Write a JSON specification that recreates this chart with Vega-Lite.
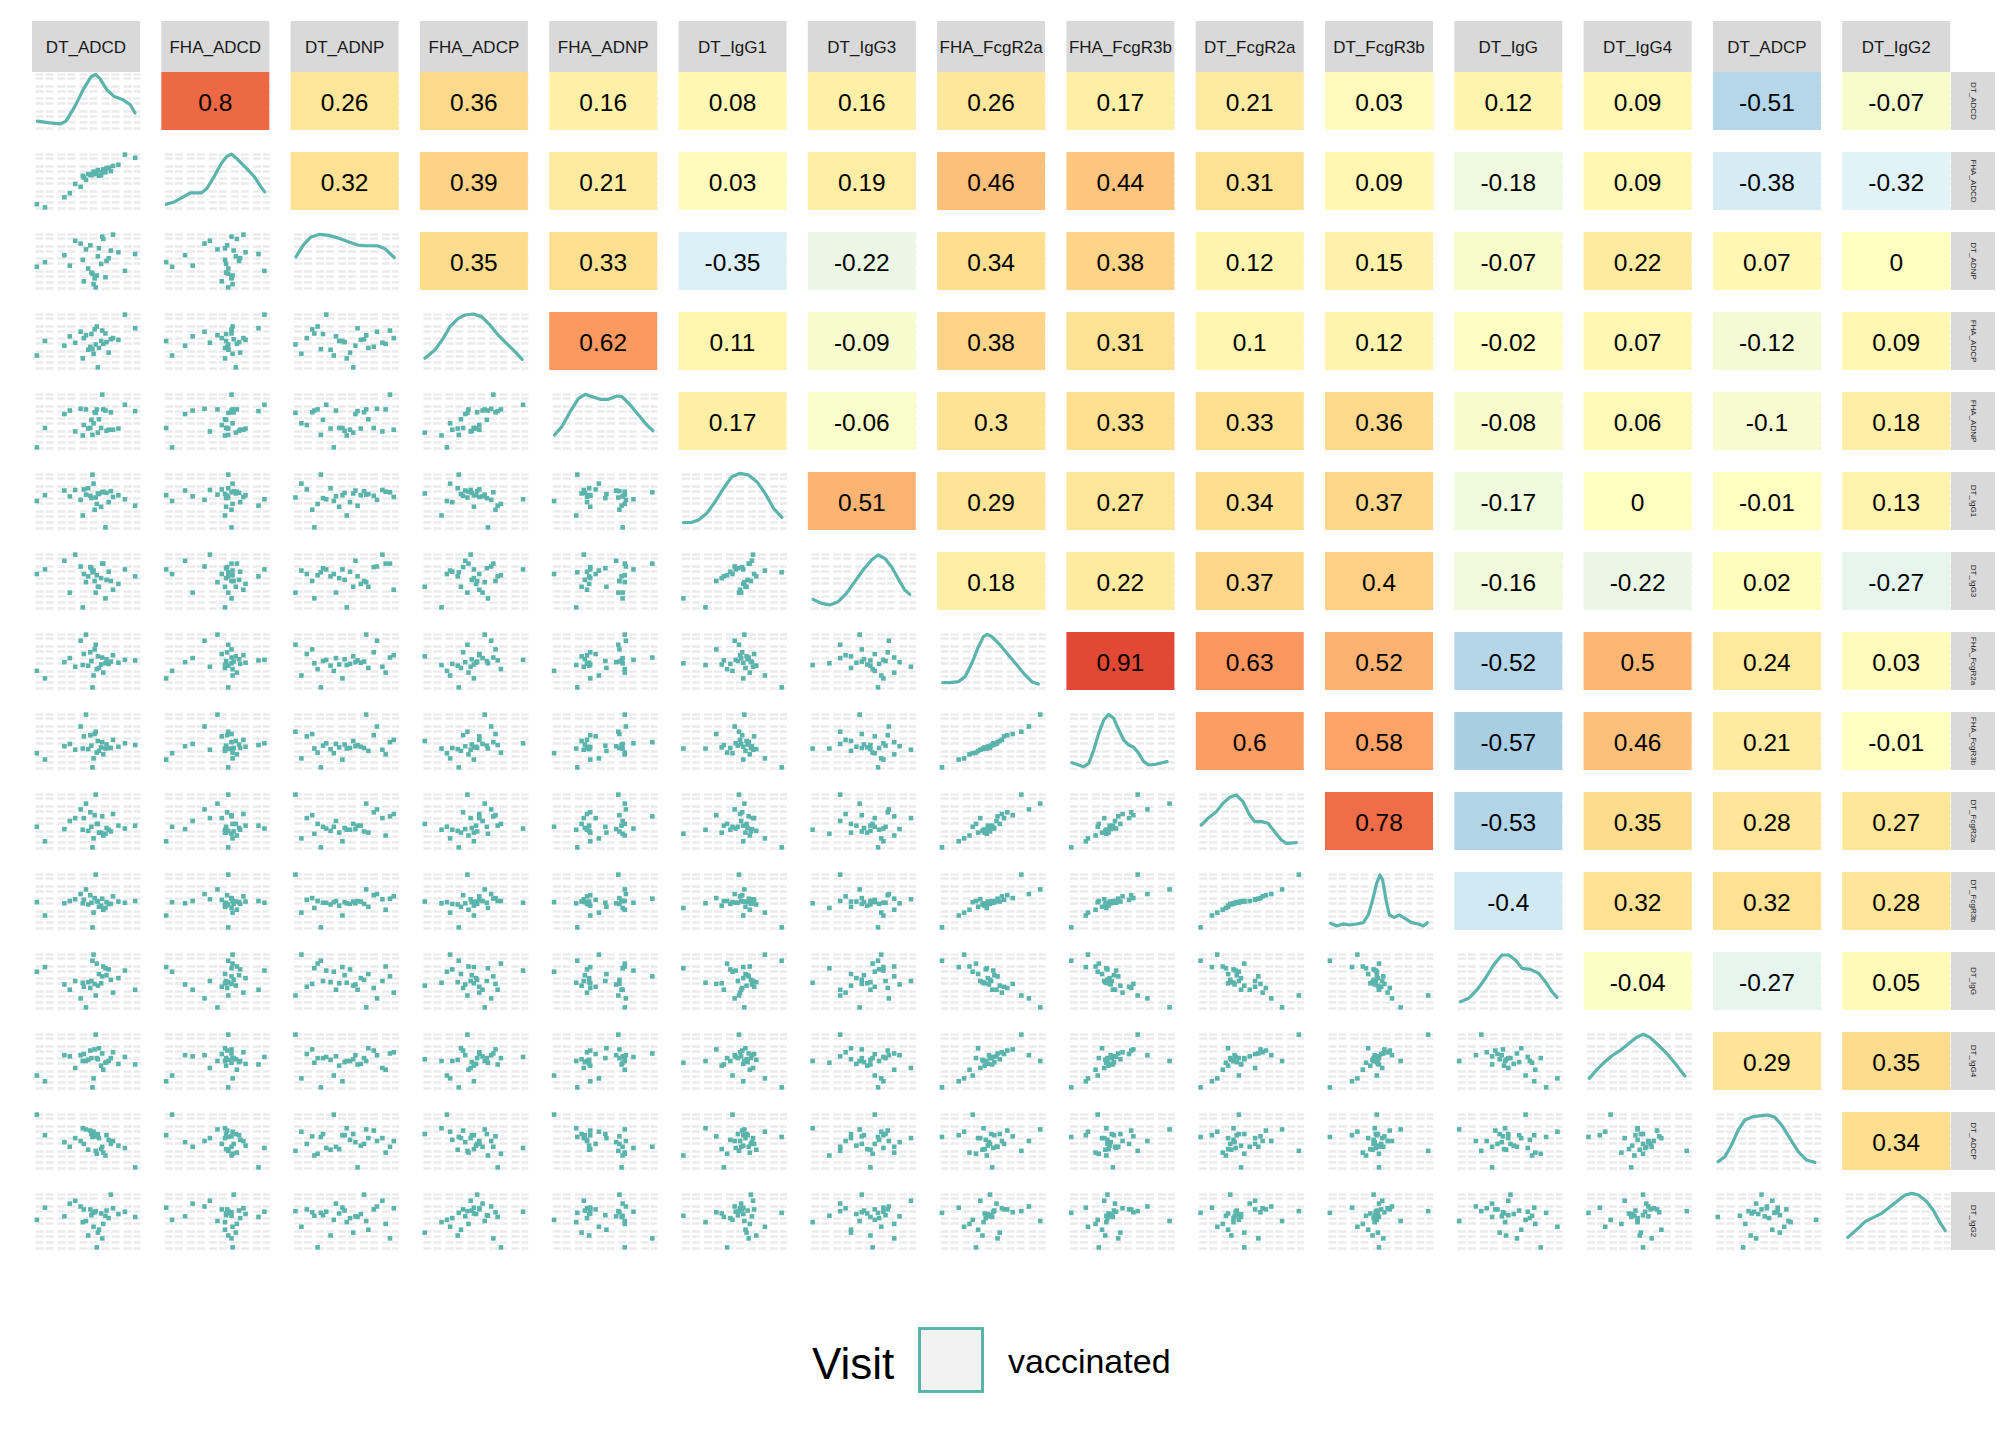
{
  "$schema": "https://vega.github.io/schema/vega-lite/v6.json",
  "background": "white",
  "padding": {"left": 32, "top": 21, "right": 0, "bottom": 0},
  "config": {"view": {"stroke": null}, "font": "Liberation Sans"},
  "spacing": 0,
  "vconcat": [
    {
      "data": {"values": [
        {"c": "DT_ADCD"}, {"c": "FHA_ADCD"}, {"c": "DT_ADNP"}, {"c": "FHA_ADCP"}, {"c": "FHA_ADNP"},
        {"c": "DT_IgG1"}, {"c": "DT_IgG3"}, {"c": "FHA_FcgR2a"}, {"c": "FHA_FcgR3b"}, {"c": "DT_FcgR2a"},
        {"c": "DT_FcgR3b"}, {"c": "DT_IgG"}, {"c": "DT_IgG4"}, {"c": "DT_ADCP"}, {"c": "DT_IgG2"}
      ]},
      "facet": {"column": {"field": "c", "sort": ["DT_ADCD","FHA_ADCD","DT_ADNP","FHA_ADCP","FHA_ADNP","DT_IgG1","DT_IgG3","FHA_FcgR2a","FHA_FcgR3b","DT_FcgR2a","DT_FcgR3b","DT_IgG","DT_IgG4","DT_ADCP","DT_IgG2"], "header": {"title": null, "labels": false}}},
      "spacing": 21.3,
      "spec": {
        "width": 108,
        "height": 51,
        "layer": [
          {"mark": {"type": "rect", "color": "#D9D9D9"}, "encoding": {}},
          {"mark": {"type": "text", "fontSize": 17, "font": "Liberation Sans", "color": "#1A1A1A", "dy": 1}, "encoding": {"text": {"field": "c"}}}
        ]
      }
    },
    {
      "spacing": 0,
      "hconcat": [
        {
          "data": {"values": [
            {"k":"o","DT_ADCD":0.55,"FHA_ADCD":0.60,"DT_ADNP":0.30,"FHA_ADCP":0.62,"FHA_ADNP":0.52,"DT_IgG1":0.55,"DT_IgG3":0.72,"FHA_FcgR2a":0.50,"FHA_FcgR3b":0.42,"DT_FcgR2a":0.40,"DT_FcgR3b":0.47,"DT_IgG":0.50,"DT_IgG4":0.55,"DT_ADCP":0.62,"DT_IgG2":0.60},
            {"k":"o","DT_ADCD":0.62,"FHA_ADCD":0.59,"DT_ADNP":0.72,"FHA_ADCP":0.38,"FHA_ADNP":0.53,"DT_IgG1":0.62,"DT_IgG3":0.40,"FHA_FcgR2a":0.38,"FHA_FcgR3b":0.33,"DT_FcgR2a":0.30,"DT_FcgR3b":0.40,"DT_IgG":0.62,"DT_IgG4":0.72,"DT_ADCP":0.55,"DT_IgG2":0.35},
            {"k":"o","DT_ADCD":0.48,"FHA_ADCD":0.56,"DT_ADNP":0.15,"FHA_ADCP":0.55,"FHA_ADNP":0.43,"DT_IgG1":0.70,"DT_IgG3":0.62,"FHA_FcgR2a":0.62,"FHA_FcgR3b":0.58,"DT_FcgR2a":0.55,"DT_FcgR3b":0.52,"DT_IgG":0.40,"DT_IgG4":0.62,"DT_ADCP":0.45,"DT_IgG2":0.70},
            {"k":"o","DT_ADCD":0.71,"FHA_ADCD":0.73,"DT_ADNP":0.55,"FHA_ADCP":0.30,"FHA_ADNP":0.35,"DT_IgG1":0.48,"DT_IgG3":0.66,"FHA_FcgR2a":0.45,"FHA_FcgR3b":0.38,"DT_FcgR2a":0.35,"DT_FcgR3b":0.45,"DT_IgG":0.70,"DT_IgG4":0.50,"DT_ADCP":0.52,"DT_IgG2":0.55},
            {"k":"o","DT_ADCD":0.35,"FHA_ADCD":0.29,"DT_ADNP":0.42,"FHA_ADCP":0.58,"FHA_ADNP":0.68,"DT_IgG1":0.58,"DT_IgG3":0.30,"FHA_FcgR2a":0.55,"FHA_FcgR3b":0.45,"DT_FcgR2a":0.50,"DT_FcgR3b":0.50,"DT_IgG":0.35,"DT_IgG4":0.58,"DT_ADCP":0.40,"DT_IgG2":0.80},
            {"k":"o","DT_ADCD":0.66,"FHA_ADCD":0.70,"DT_ADNP":0.88,"FHA_ADCP":0.45,"FHA_ADNP":0.70,"DT_IgG1":0.66,"DT_IgG3":0.80,"FHA_FcgR2a":0.30,"FHA_FcgR3b":0.27,"DT_FcgR2a":0.25,"DT_FcgR3b":0.35,"DT_IgG":0.75,"DT_IgG4":0.35,"DT_ADCP":0.30,"DT_IgG2":0.45},
            {"k":"o","DT_ADCD":0.58,"FHA_ADCD":0.65,"DT_ADNP":0.20,"FHA_ADCP":0.70,"FHA_ADNP":0.65,"DT_IgG1":0.35,"DT_IgG3":0.50,"FHA_FcgR2a":0.70,"FHA_FcgR3b":0.62,"DT_FcgR2a":0.60,"DT_FcgR3b":0.55,"DT_IgG":0.45,"DT_IgG4":0.70,"DT_ADCP":0.58,"DT_IgG2":0.65},
            {"k":"o","DT_ADCD":0.80,"FHA_ADCD":0.78,"DT_ADNP":0.65,"FHA_ADCP":0.52,"FHA_ADNP":0.37,"DT_IgG1":0.60,"DT_IgG3":0.45,"FHA_FcgR2a":0.47,"FHA_FcgR3b":0.40,"DT_FcgR2a":0.42,"DT_FcgR3b":0.49,"DT_IgG":0.55,"DT_IgG4":0.45,"DT_ADCP":0.42,"DT_IgG2":0.62},
            {"k":"o","DT_ADCD":0.52,"FHA_ADCD":0.62,"DT_ADNP":0.37,"FHA_ADCP":0.35,"FHA_ADNP":0.37,"DT_IgG1":0.72,"DT_IgG3":0.58,"FHA_FcgR2a":0.42,"FHA_FcgR3b":0.36,"DT_FcgR2a":0.33,"DT_FcgR3b":0.44,"DT_IgG":0.48,"DT_IgG4":0.52,"DT_ADCP":0.35,"DT_IgG2":0.25},
            {"k":"o","DT_ADCD":0.45,"FHA_ADCD":0.40,"DT_ADNP":0.80,"FHA_ADCP":0.66,"FHA_ADNP":0.71,"DT_IgG1":0.52,"DT_IgG3":0.75,"FHA_FcgR2a":0.85,"FHA_FcgR3b":0.75,"DT_FcgR2a":0.70,"DT_FcgR3b":0.62,"DT_IgG":0.20,"DT_IgG4":0.60,"DT_ADCP":0.50,"DT_IgG2":0.75},
            {"k":"o","DT_ADCD":0.69,"FHA_ADCD":0.72,"DT_ADNP":0.50,"FHA_ADCP":0.48,"FHA_ADNP":0.33,"DT_IgG1":0.64,"DT_IgG3":0.52,"FHA_FcgR2a":0.53,"FHA_FcgR3b":0.44,"DT_FcgR2a":0.38,"DT_FcgR3b":0.48,"DT_IgG":0.60,"DT_IgG4":0.48,"DT_ADCP":0.60,"DT_IgG2":0.68},
            {"k":"o","DT_ADCD":0.60,"FHA_ADCD":0.66,"DT_ADNP":0.25,"FHA_ADCP":0.75,"FHA_ADNP":0.70,"DT_IgG1":0.45,"DT_IgG3":0.60,"FHA_FcgR2a":0.36,"FHA_FcgR3b":0.30,"DT_FcgR2a":0.45,"DT_FcgR3b":0.50,"DT_IgG":0.80,"DT_IgG4":0.55,"DT_ADCP":0.28,"DT_IgG2":0.045},
            {"k":"o","DT_ADCD":0.30,"FHA_ADCD":0.22,"DT_ADNP":0.60,"FHA_ADCP":0.42,"FHA_ADNP":0.62,"DT_IgG1":0.68,"DT_IgG3":0.85,"FHA_FcgR2a":0.48,"FHA_FcgR3b":0.41,"DT_FcgR2a":0.36,"DT_FcgR3b":0.46,"DT_IgG":0.44,"DT_IgG4":0.60,"DT_ADCP":0.48,"DT_IgG2":0.58},
            {"k":"o","DT_ADCD":0.75,"FHA_ADCD":0.76,"DT_ADNP":0.955,"FHA_ADCP":0.55,"FHA_ADNP":0.35,"DT_IgG1":0.57,"DT_IgG3":0.35,"FHA_FcgR2a":0.60,"FHA_FcgR3b":0.52,"DT_FcgR2a":0.62,"DT_FcgR3b":0.58,"DT_IgG":0.30,"DT_IgG4":0.65,"DT_ADCP":0.50,"DT_IgG2":0.72},
            {"k":"o","DT_ADCD":0.57,"FHA_ADCD":0.66,"DT_ADNP":0.10,"FHA_ADCP":0.28,"FHA_ADNP":0.46,"DT_IgG1":0.80,"DT_IgG3":0.68,"FHA_FcgR2a":0.25,"FHA_FcgR3b":0.20,"DT_FcgR2a":0.20,"DT_FcgR3b":0.30,"DT_IgG":0.955,"DT_IgG4":0.20,"DT_ADCP":0.66,"DT_IgG2":0.40},
            {"k":"o","DT_ADCD":0.64,"FHA_ADCD":0.60,"DT_ADNP":0.45,"FHA_ADCP":0.50,"FHA_ADNP":0.38,"DT_IgG1":0.40,"DT_IgG3":0.55,"FHA_FcgR2a":0.44,"FHA_FcgR3b":0.39,"DT_FcgR2a":0.30,"DT_FcgR3b":0.42,"DT_IgG":0.46,"DT_IgG4":0.42,"DT_ADCP":0.36,"DT_IgG2":0.63},
            {"k":"o","DT_ADCD":0.50,"FHA_ADCD":0.52,"DT_ADNP":0.70,"FHA_ADCP":0.60,"FHA_ADNP":0.70,"DT_IgG1":0.61,"DT_IgG3":0.48,"FHA_FcgR2a":0.955,"FHA_FcgR3b":0.955,"DT_FcgR2a":0.80,"DT_FcgR3b":0.70,"DT_IgG":0.045,"DT_IgG4":0.50,"DT_ADCP":0.70,"DT_IgG2":0.50},
            {"k":"o","DT_ADCD":0.86,"FHA_ADCD":0.955,"DT_ADNP":0.33,"FHA_ADCP":0.955,"FHA_ADNP":0.78,"DT_IgG1":0.53,"DT_IgG3":0.70,"FHA_FcgR2a":0.52,"FHA_FcgR3b":0.46,"DT_FcgR2a":0.37,"DT_FcgR3b":0.47,"DT_IgG":0.68,"DT_IgG4":0.57,"DT_ADCP":0.38,"DT_IgG2":0.66},
            {"k":"o","DT_ADCD":0.40,"FHA_ADCD":0.45,"DT_ADNP":0.85,"FHA_ADCP":0.47,"FHA_ADNP":0.32,"DT_IgG1":0.69,"DT_IgG3":0.955,"FHA_FcgR2a":0.40,"FHA_FcgR3b":0.35,"DT_FcgR2a":0.55,"DT_FcgR3b":0.53,"DT_IgG":0.50,"DT_IgG4":0.38,"DT_ADCP":0.55,"DT_IgG2":0.85},
            {"k":"o","DT_ADCD":0.61,"FHA_ADCD":0.69,"DT_ADNP":0.58,"FHA_ADCP":0.045,"FHA_ADNP":0.30,"DT_IgG1":0.63,"DT_IgG3":0.40,"FHA_FcgR2a":0.58,"FHA_FcgR3b":0.50,"DT_FcgR2a":0.45,"DT_FcgR3b":0.49,"DT_IgG":0.42,"DT_IgG4":0.53,"DT_ADCP":0.62,"DT_IgG2":0.30},
            {"k":"o","DT_ADCD":0.68,"FHA_ADCD":0.65,"DT_ADNP":0.22,"FHA_ADCP":0.63,"FHA_ADNP":0.68,"DT_IgG1":0.045,"DT_IgG3":0.20,"FHA_FcgR2a":0.46,"FHA_FcgR3b":0.37,"DT_FcgR2a":0.28,"DT_FcgR3b":0.38,"DT_IgG":0.72,"DT_IgG4":0.47,"DT_ADCP":0.25,"DT_IgG2":0.59},
            {"k":"o","DT_ADCD":0.54,"FHA_ADCD":0.61,"DT_ADNP":0.77,"FHA_ADCP":0.40,"FHA_ADNP":0.38,"DT_IgG1":0.59,"DT_IgG3":0.74,"FHA_FcgR2a":0.65,"FHA_FcgR3b":0.60,"DT_FcgR2a":0.65,"DT_FcgR3b":0.60,"DT_IgG":0.38,"DT_IgG4":0.68,"DT_ADCP":0.68,"DT_IgG2":0.70},
            {"k":"o","DT_ADCD":0.045,"FHA_ADCD":0.10,"DT_ADNP":0.40,"FHA_ADCP":0.25,"FHA_ADNP":0.045,"DT_IgG1":0.50,"DT_IgG3":0.62,"FHA_FcgR2a":0.33,"FHA_FcgR3b":0.29,"DT_FcgR2a":0.40,"DT_FcgR3b":0.48,"DT_IgG":0.66,"DT_IgG4":0.25,"DT_ADCP":0.955,"DT_IgG2":0.52},
            {"k":"o","DT_ADCD":0.73,"FHA_ADCD":0.67,"DT_ADNP":0.68,"FHA_ADCP":0.53,"FHA_ADNP":0.65,"DT_IgG1":0.67,"DT_IgG3":0.50,"FHA_FcgR2a":0.49,"FHA_FcgR3b":0.38,"DT_FcgR2a":0.32,"DT_FcgR3b":0.45,"DT_IgG":0.52,"DT_IgG4":0.55,"DT_ADCP":0.45,"DT_IgG2":0.955},
            {"k":"o","DT_ADCD":0.59,"FHA_ADCD":0.62,"DT_ADNP":0.045,"FHA_ADCP":0.44,"FHA_ADNP":0.64,"DT_IgG1":0.56,"DT_IgG3":0.30,"FHA_FcgR2a":0.78,"FHA_FcgR3b":0.66,"DT_FcgR2a":0.955,"DT_FcgR3b":0.955,"DT_IgG":0.25,"DT_IgG4":0.955,"DT_ADCP":0.33,"DT_IgG2":0.67},
            {"k":"o","DT_ADCD":0.47,"FHA_ADCD":0.59,"DT_ADNP":0.52,"FHA_ADCP":0.20,"FHA_ADNP":0.25,"DT_IgG1":0.25,"DT_IgG3":0.045,"FHA_FcgR2a":0.43,"FHA_FcgR3b":0.37,"DT_FcgR2a":0.35,"DT_FcgR3b":0.46,"DT_IgG":0.47,"DT_IgG4":0.50,"DT_ADCP":0.72,"DT_IgG2":0.48},
            {"k":"o","DT_ADCD":0.65,"FHA_ADCD":0.65,"DT_ADNP":0.92,"FHA_ADCP":0.68,"FHA_ADNP":0.955,"DT_IgG1":0.65,"DT_IgG3":0.80,"FHA_FcgR2a":0.56,"FHA_FcgR3b":0.48,"DT_FcgR2a":0.58,"DT_FcgR3b":0.54,"DT_IgG":0.58,"DT_IgG4":0.63,"DT_ADCP":0.40,"DT_IgG2":0.20},
            {"k":"o","DT_ADCD":0.56,"FHA_ADCD":0.62,"DT_ADNP":0.28,"FHA_ADCP":0.36,"FHA_ADNP":0.26,"DT_IgG1":0.955,"DT_IgG3":0.65,"FHA_FcgR2a":0.045,"FHA_FcgR3b":0.045,"DT_FcgR2a":0.045,"DT_FcgR3b":0.045,"DT_IgG":0.85,"DT_IgG4":0.045,"DT_ADCP":0.57,"DT_IgG2":0.64},
            {"k":"o","DT_ADCD":0.955,"FHA_ADCD":0.90,"DT_ADNP":0.62,"FHA_ADCP":0.72,"FHA_ADNP":0.67,"DT_IgG1":0.42,"DT_IgG3":0.58,"FHA_FcgR2a":0.51,"FHA_FcgR3b":0.43,"DT_FcgR2a":0.42,"DT_FcgR3b":0.50,"DT_IgG":0.35,"DT_IgG4":0.44,"DT_ADCP":0.045,"DT_IgG2":0.57},
            {"k":"o","DT_ADCD":0.12,"FHA_ADCD":0.045,"DT_ADNP":0.48,"FHA_ADCP":0.50,"FHA_ADNP":0.38,"DT_IgG1":0.60,"DT_IgG3":0.70,"FHA_FcgR2a":0.20,"FHA_FcgR3b":0.18,"DT_FcgR2a":0.15,"DT_FcgR3b":0.25,"DT_IgG":0.74,"DT_IgG4":0.15,"DT_ADCP":0.60,"DT_IgG2":0.73},

            {"k":"c","rr":"DT_ADCD","cc":"FHA_ADCD","v":0.8},
            {"k":"c","rr":"DT_ADCD","cc":"DT_ADNP","v":0.26},
            {"k":"c","rr":"DT_ADCD","cc":"FHA_ADCP","v":0.36},
            {"k":"c","rr":"DT_ADCD","cc":"FHA_ADNP","v":0.16},
            {"k":"c","rr":"DT_ADCD","cc":"DT_IgG1","v":0.08},
            {"k":"c","rr":"DT_ADCD","cc":"DT_IgG3","v":0.16},
            {"k":"c","rr":"DT_ADCD","cc":"FHA_FcgR2a","v":0.26},
            {"k":"c","rr":"DT_ADCD","cc":"FHA_FcgR3b","v":0.17},
            {"k":"c","rr":"DT_ADCD","cc":"DT_FcgR2a","v":0.21},
            {"k":"c","rr":"DT_ADCD","cc":"DT_FcgR3b","v":0.03},
            {"k":"c","rr":"DT_ADCD","cc":"DT_IgG","v":0.12},
            {"k":"c","rr":"DT_ADCD","cc":"DT_IgG4","v":0.09},
            {"k":"c","rr":"DT_ADCD","cc":"DT_ADCP","v":-0.51},
            {"k":"c","rr":"DT_ADCD","cc":"DT_IgG2","v":-0.07},
            {"k":"c","rr":"FHA_ADCD","cc":"DT_ADNP","v":0.32},
            {"k":"c","rr":"FHA_ADCD","cc":"FHA_ADCP","v":0.39},
            {"k":"c","rr":"FHA_ADCD","cc":"FHA_ADNP","v":0.21},
            {"k":"c","rr":"FHA_ADCD","cc":"DT_IgG1","v":0.03},
            {"k":"c","rr":"FHA_ADCD","cc":"DT_IgG3","v":0.19},
            {"k":"c","rr":"FHA_ADCD","cc":"FHA_FcgR2a","v":0.46},
            {"k":"c","rr":"FHA_ADCD","cc":"FHA_FcgR3b","v":0.44},
            {"k":"c","rr":"FHA_ADCD","cc":"DT_FcgR2a","v":0.31},
            {"k":"c","rr":"FHA_ADCD","cc":"DT_FcgR3b","v":0.09},
            {"k":"c","rr":"FHA_ADCD","cc":"DT_IgG","v":-0.18},
            {"k":"c","rr":"FHA_ADCD","cc":"DT_IgG4","v":0.09},
            {"k":"c","rr":"FHA_ADCD","cc":"DT_ADCP","v":-0.38},
            {"k":"c","rr":"FHA_ADCD","cc":"DT_IgG2","v":-0.32},
            {"k":"c","rr":"DT_ADNP","cc":"FHA_ADCP","v":0.35},
            {"k":"c","rr":"DT_ADNP","cc":"FHA_ADNP","v":0.33},
            {"k":"c","rr":"DT_ADNP","cc":"DT_IgG1","v":-0.35},
            {"k":"c","rr":"DT_ADNP","cc":"DT_IgG3","v":-0.22},
            {"k":"c","rr":"DT_ADNP","cc":"FHA_FcgR2a","v":0.34},
            {"k":"c","rr":"DT_ADNP","cc":"FHA_FcgR3b","v":0.38},
            {"k":"c","rr":"DT_ADNP","cc":"DT_FcgR2a","v":0.12},
            {"k":"c","rr":"DT_ADNP","cc":"DT_FcgR3b","v":0.15},
            {"k":"c","rr":"DT_ADNP","cc":"DT_IgG","v":-0.07},
            {"k":"c","rr":"DT_ADNP","cc":"DT_IgG4","v":0.22},
            {"k":"c","rr":"DT_ADNP","cc":"DT_ADCP","v":0.07},
            {"k":"c","rr":"DT_ADNP","cc":"DT_IgG2","v":0},
            {"k":"c","rr":"FHA_ADCP","cc":"FHA_ADNP","v":0.62},
            {"k":"c","rr":"FHA_ADCP","cc":"DT_IgG1","v":0.11},
            {"k":"c","rr":"FHA_ADCP","cc":"DT_IgG3","v":-0.09},
            {"k":"c","rr":"FHA_ADCP","cc":"FHA_FcgR2a","v":0.38},
            {"k":"c","rr":"FHA_ADCP","cc":"FHA_FcgR3b","v":0.31},
            {"k":"c","rr":"FHA_ADCP","cc":"DT_FcgR2a","v":0.1},
            {"k":"c","rr":"FHA_ADCP","cc":"DT_FcgR3b","v":0.12},
            {"k":"c","rr":"FHA_ADCP","cc":"DT_IgG","v":-0.02},
            {"k":"c","rr":"FHA_ADCP","cc":"DT_IgG4","v":0.07},
            {"k":"c","rr":"FHA_ADCP","cc":"DT_ADCP","v":-0.12},
            {"k":"c","rr":"FHA_ADCP","cc":"DT_IgG2","v":0.09},
            {"k":"c","rr":"FHA_ADNP","cc":"DT_IgG1","v":0.17},
            {"k":"c","rr":"FHA_ADNP","cc":"DT_IgG3","v":-0.06},
            {"k":"c","rr":"FHA_ADNP","cc":"FHA_FcgR2a","v":0.3},
            {"k":"c","rr":"FHA_ADNP","cc":"FHA_FcgR3b","v":0.33},
            {"k":"c","rr":"FHA_ADNP","cc":"DT_FcgR2a","v":0.33},
            {"k":"c","rr":"FHA_ADNP","cc":"DT_FcgR3b","v":0.36},
            {"k":"c","rr":"FHA_ADNP","cc":"DT_IgG","v":-0.08},
            {"k":"c","rr":"FHA_ADNP","cc":"DT_IgG4","v":0.06},
            {"k":"c","rr":"FHA_ADNP","cc":"DT_ADCP","v":-0.1},
            {"k":"c","rr":"FHA_ADNP","cc":"DT_IgG2","v":0.18},
            {"k":"c","rr":"DT_IgG1","cc":"DT_IgG3","v":0.51},
            {"k":"c","rr":"DT_IgG1","cc":"FHA_FcgR2a","v":0.29},
            {"k":"c","rr":"DT_IgG1","cc":"FHA_FcgR3b","v":0.27},
            {"k":"c","rr":"DT_IgG1","cc":"DT_FcgR2a","v":0.34},
            {"k":"c","rr":"DT_IgG1","cc":"DT_FcgR3b","v":0.37},
            {"k":"c","rr":"DT_IgG1","cc":"DT_IgG","v":-0.17},
            {"k":"c","rr":"DT_IgG1","cc":"DT_IgG4","v":0},
            {"k":"c","rr":"DT_IgG1","cc":"DT_ADCP","v":-0.01},
            {"k":"c","rr":"DT_IgG1","cc":"DT_IgG2","v":0.13},
            {"k":"c","rr":"DT_IgG3","cc":"FHA_FcgR2a","v":0.18},
            {"k":"c","rr":"DT_IgG3","cc":"FHA_FcgR3b","v":0.22},
            {"k":"c","rr":"DT_IgG3","cc":"DT_FcgR2a","v":0.37},
            {"k":"c","rr":"DT_IgG3","cc":"DT_FcgR3b","v":0.4},
            {"k":"c","rr":"DT_IgG3","cc":"DT_IgG","v":-0.16},
            {"k":"c","rr":"DT_IgG3","cc":"DT_IgG4","v":-0.22},
            {"k":"c","rr":"DT_IgG3","cc":"DT_ADCP","v":0.02},
            {"k":"c","rr":"DT_IgG3","cc":"DT_IgG2","v":-0.27},
            {"k":"c","rr":"FHA_FcgR2a","cc":"FHA_FcgR3b","v":0.91},
            {"k":"c","rr":"FHA_FcgR2a","cc":"DT_FcgR2a","v":0.63},
            {"k":"c","rr":"FHA_FcgR2a","cc":"DT_FcgR3b","v":0.52},
            {"k":"c","rr":"FHA_FcgR2a","cc":"DT_IgG","v":-0.52},
            {"k":"c","rr":"FHA_FcgR2a","cc":"DT_IgG4","v":0.5},
            {"k":"c","rr":"FHA_FcgR2a","cc":"DT_ADCP","v":0.24},
            {"k":"c","rr":"FHA_FcgR2a","cc":"DT_IgG2","v":0.03},
            {"k":"c","rr":"FHA_FcgR3b","cc":"DT_FcgR2a","v":0.6},
            {"k":"c","rr":"FHA_FcgR3b","cc":"DT_FcgR3b","v":0.58},
            {"k":"c","rr":"FHA_FcgR3b","cc":"DT_IgG","v":-0.57},
            {"k":"c","rr":"FHA_FcgR3b","cc":"DT_IgG4","v":0.46},
            {"k":"c","rr":"FHA_FcgR3b","cc":"DT_ADCP","v":0.21},
            {"k":"c","rr":"FHA_FcgR3b","cc":"DT_IgG2","v":-0.01},
            {"k":"c","rr":"DT_FcgR2a","cc":"DT_FcgR3b","v":0.78},
            {"k":"c","rr":"DT_FcgR2a","cc":"DT_IgG","v":-0.53},
            {"k":"c","rr":"DT_FcgR2a","cc":"DT_IgG4","v":0.35},
            {"k":"c","rr":"DT_FcgR2a","cc":"DT_ADCP","v":0.28},
            {"k":"c","rr":"DT_FcgR2a","cc":"DT_IgG2","v":0.27},
            {"k":"c","rr":"DT_FcgR3b","cc":"DT_IgG","v":-0.4},
            {"k":"c","rr":"DT_FcgR3b","cc":"DT_IgG4","v":0.32},
            {"k":"c","rr":"DT_FcgR3b","cc":"DT_ADCP","v":0.32},
            {"k":"c","rr":"DT_FcgR3b","cc":"DT_IgG2","v":0.28},
            {"k":"c","rr":"DT_IgG","cc":"DT_IgG4","v":-0.04},
            {"k":"c","rr":"DT_IgG","cc":"DT_ADCP","v":-0.27},
            {"k":"c","rr":"DT_IgG","cc":"DT_IgG2","v":0.05},
            {"k":"c","rr":"DT_IgG4","cc":"DT_ADCP","v":0.29},
            {"k":"c","rr":"DT_IgG4","cc":"DT_IgG2","v":0.35},
            {"k":"c","rr":"DT_ADCP","cc":"DT_IgG2","v":0.34},

            {"k":"d","vv":"DT_ADCD","Visit":"vaccinated","x":0.05,"y":0.153},
            {"k":"d","vv":"DT_ADCD","Visit":"vaccinated","x":0.166,"y":0.124},
            {"k":"d","vv":"DT_ADCD","Visit":"vaccinated","x":0.265,"y":0.107},
            {"k":"d","vv":"DT_ADCD","Visit":"vaccinated","x":0.315,"y":0.153},
            {"k":"d","vv":"DT_ADCD","Visit":"vaccinated","x":0.397,"y":0.407},
            {"k":"d","vv":"DT_ADCD","Visit":"vaccinated","x":0.48,"y":0.718},
            {"k":"d","vv":"DT_ADCD","Visit":"vaccinated","x":0.546,"y":0.915},
            {"k":"d","vv":"DT_ADCD","Visit":"vaccinated","x":0.589,"y":0.96},
            {"k":"d","vv":"DT_ADCD","Visit":"vaccinated","x":0.629,"y":0.887},
            {"k":"d","vv":"DT_ADCD","Visit":"vaccinated","x":0.695,"y":0.689},
            {"k":"d","vv":"DT_ADCD","Visit":"vaccinated","x":0.762,"y":0.576},
            {"k":"d","vv":"DT_ADCD","Visit":"vaccinated","x":0.844,"y":0.52},
            {"k":"d","vv":"DT_ADCD","Visit":"vaccinated","x":0.91,"y":0.435},
            {"k":"d","vv":"DT_ADCD","Visit":"vaccinated","x":0.954,"y":0.294},

            {"k":"d","vv":"FHA_ADCD","Visit":"vaccinated","x":0.047,"y":0.098},
            {"k":"d","vv":"FHA_ADCD","Visit":"vaccinated","x":0.12,"y":0.139},
            {"k":"d","vv":"FHA_ADCD","Visit":"vaccinated","x":0.204,"y":0.225},
            {"k":"d","vv":"FHA_ADCD","Visit":"vaccinated","x":0.271,"y":0.295},
            {"k":"d","vv":"FHA_ADCD","Visit":"vaccinated","x":0.371,"y":0.295},
            {"k":"d","vv":"FHA_ADCD","Visit":"vaccinated","x":0.421,"y":0.37},
            {"k":"d","vv":"FHA_ADCD","Visit":"vaccinated","x":0.488,"y":0.572},
            {"k":"d","vv":"FHA_ADCD","Visit":"vaccinated","x":0.555,"y":0.803},
            {"k":"d","vv":"FHA_ADCD","Visit":"vaccinated","x":0.605,"y":0.919},
            {"k":"d","vv":"FHA_ADCD","Visit":"vaccinated","x":0.649,"y":0.965},
            {"k":"d","vv":"FHA_ADCD","Visit":"vaccinated","x":0.706,"y":0.873},
            {"k":"d","vv":"FHA_ADCD","Visit":"vaccinated","x":0.789,"y":0.717},
            {"k":"d","vv":"FHA_ADCD","Visit":"vaccinated","x":0.863,"y":0.572},
            {"k":"d","vv":"FHA_ADCD","Visit":"vaccinated","x":0.923,"y":0.399},
            {"k":"d","vv":"FHA_ADCD","Visit":"vaccinated","x":0.957,"y":0.312},

            {"k":"d","vv":"DT_ADNP","Visit":"vaccinated","x":0.05,"y":0.572},
            {"k":"d","vv":"DT_ADNP","Visit":"vaccinated","x":0.117,"y":0.775},
            {"k":"d","vv":"DT_ADNP","Visit":"vaccinated","x":0.184,"y":0.908},
            {"k":"d","vv":"DT_ADNP","Visit":"vaccinated","x":0.268,"y":0.96},
            {"k":"d","vv":"DT_ADNP","Visit":"vaccinated","x":0.351,"y":0.942},
            {"k":"d","vv":"DT_ADNP","Visit":"vaccinated","x":0.452,"y":0.89},
            {"k":"d","vv":"DT_ADNP","Visit":"vaccinated","x":0.535,"y":0.832},
            {"k":"d","vv":"DT_ADNP","Visit":"vaccinated","x":0.619,"y":0.775},
            {"k":"d","vv":"DT_ADNP","Visit":"vaccinated","x":0.702,"y":0.763},
            {"k":"d","vv":"DT_ADNP","Visit":"vaccinated","x":0.803,"y":0.763},
            {"k":"d","vv":"DT_ADNP","Visit":"vaccinated","x":0.87,"y":0.717},
            {"k":"d","vv":"DT_ADNP","Visit":"vaccinated","x":0.92,"y":0.63},
            {"k":"d","vv":"DT_ADNP","Visit":"vaccinated","x":0.96,"y":0.56},

            {"k":"d","vv":"FHA_ADCP","Visit":"vaccinated","x":0.046,"y":0.201},
            {"k":"d","vv":"FHA_ADCP","Visit":"vaccinated","x":0.139,"y":0.345},
            {"k":"d","vv":"FHA_ADCP","Visit":"vaccinated","x":0.216,"y":0.546},
            {"k":"d","vv":"FHA_ADCP","Visit":"vaccinated","x":0.278,"y":0.747},
            {"k":"d","vv":"FHA_ADCP","Visit":"vaccinated","x":0.355,"y":0.891},
            {"k":"d","vv":"FHA_ADCP","Visit":"vaccinated","x":0.417,"y":0.948},
            {"k":"d","vv":"FHA_ADCP","Visit":"vaccinated","x":0.494,"y":0.966},
            {"k":"d","vv":"FHA_ADCP","Visit":"vaccinated","x":0.571,"y":0.92},
            {"k":"d","vv":"FHA_ADCP","Visit":"vaccinated","x":0.648,"y":0.776},
            {"k":"d","vv":"FHA_ADCP","Visit":"vaccinated","x":0.725,"y":0.603},
            {"k":"d","vv":"FHA_ADCP","Visit":"vaccinated","x":0.802,"y":0.46},
            {"k":"d","vv":"FHA_ADCP","Visit":"vaccinated","x":0.88,"y":0.316},
            {"k":"d","vv":"FHA_ADCP","Visit":"vaccinated","x":0.947,"y":0.184},

            {"k":"d","vv":"FHA_ADNP","Visit":"vaccinated","x":0.049,"y":0.259},
            {"k":"d","vv":"FHA_ADNP","Visit":"vaccinated","x":0.117,"y":0.402},
            {"k":"d","vv":"FHA_ADNP","Visit":"vaccinated","x":0.194,"y":0.661},
            {"k":"d","vv":"FHA_ADNP","Visit":"vaccinated","x":0.272,"y":0.89},
            {"k":"d","vv":"FHA_ADNP","Visit":"vaccinated","x":0.333,"y":0.96},
            {"k":"d","vv":"FHA_ADNP","Visit":"vaccinated","x":0.395,"y":0.92},
            {"k":"d","vv":"FHA_ADNP","Visit":"vaccinated","x":0.472,"y":0.874},
            {"k":"d","vv":"FHA_ADNP","Visit":"vaccinated","x":0.549,"y":0.874},
            {"k":"d","vv":"FHA_ADNP","Visit":"vaccinated","x":0.627,"y":0.931},
            {"k":"d","vv":"FHA_ADNP","Visit":"vaccinated","x":0.673,"y":0.92},
            {"k":"d","vv":"FHA_ADNP","Visit":"vaccinated","x":0.75,"y":0.776},
            {"k":"d","vv":"FHA_ADNP","Visit":"vaccinated","x":0.827,"y":0.603},
            {"k":"d","vv":"FHA_ADNP","Visit":"vaccinated","x":0.904,"y":0.431},
            {"k":"d","vv":"FHA_ADNP","Visit":"vaccinated","x":0.96,"y":0.333},

            {"k":"d","vv":"DT_IgG1","Visit":"vaccinated","x":0.046,"y":0.126},
            {"k":"d","vv":"DT_IgG1","Visit":"vaccinated","x":0.123,"y":0.132},
            {"k":"d","vv":"DT_IgG1","Visit":"vaccinated","x":0.185,"y":0.172},
            {"k":"d","vv":"DT_IgG1","Visit":"vaccinated","x":0.262,"y":0.287},
            {"k":"d","vv":"DT_IgG1","Visit":"vaccinated","x":0.34,"y":0.489},
            {"k":"d","vv":"DT_IgG1","Visit":"vaccinated","x":0.417,"y":0.718},
            {"k":"d","vv":"DT_IgG1","Visit":"vaccinated","x":0.494,"y":0.92},
            {"k":"d","vv":"DT_IgG1","Visit":"vaccinated","x":0.571,"y":0.977},
            {"k":"d","vv":"DT_IgG1","Visit":"vaccinated","x":0.648,"y":0.948},
            {"k":"d","vv":"DT_IgG1","Visit":"vaccinated","x":0.725,"y":0.833},
            {"k":"d","vv":"DT_IgG1","Visit":"vaccinated","x":0.802,"y":0.632},
            {"k":"d","vv":"DT_IgG1","Visit":"vaccinated","x":0.88,"y":0.374},
            {"k":"d","vv":"DT_IgG1","Visit":"vaccinated","x":0.957,"y":0.218},

            {"k":"d","vv":"DT_IgG3","Visit":"vaccinated","x":0.049,"y":0.184},
            {"k":"d","vv":"DT_IgG3","Visit":"vaccinated","x":0.127,"y":0.115},
            {"k":"d","vv":"DT_IgG3","Visit":"vaccinated","x":0.204,"y":0.086},
            {"k":"d","vv":"DT_IgG3","Visit":"vaccinated","x":0.281,"y":0.144},
            {"k":"d","vv":"DT_IgG3","Visit":"vaccinated","x":0.358,"y":0.287},
            {"k":"d","vv":"DT_IgG3","Visit":"vaccinated","x":0.435,"y":0.489},
            {"k":"d","vv":"DT_IgG3","Visit":"vaccinated","x":0.512,"y":0.69},
            {"k":"d","vv":"DT_IgG3","Visit":"vaccinated","x":0.59,"y":0.862},
            {"k":"d","vv":"DT_IgG3","Visit":"vaccinated","x":0.651,"y":0.948},
            {"k":"d","vv":"DT_IgG3","Visit":"vaccinated","x":0.713,"y":0.891},
            {"k":"d","vv":"DT_IgG3","Visit":"vaccinated","x":0.775,"y":0.747},
            {"k":"d","vv":"DT_IgG3","Visit":"vaccinated","x":0.852,"y":0.489},
            {"k":"d","vv":"DT_IgG3","Visit":"vaccinated","x":0.898,"y":0.345},
            {"k":"d","vv":"DT_IgG3","Visit":"vaccinated","x":0.944,"y":0.27},

            {"k":"d","vv":"FHA_FcgR2a","Visit":"vaccinated","x":0.052,"y":0.126},
            {"k":"d","vv":"FHA_FcgR2a","Visit":"vaccinated","x":0.12,"y":0.126},
            {"k":"d","vv":"FHA_FcgR2a","Visit":"vaccinated","x":0.198,"y":0.144},
            {"k":"d","vv":"FHA_FcgR2a","Visit":"vaccinated","x":0.259,"y":0.23},
            {"k":"d","vv":"FHA_FcgR2a","Visit":"vaccinated","x":0.321,"y":0.46},
            {"k":"d","vv":"FHA_FcgR2a","Visit":"vaccinated","x":0.383,"y":0.747},
            {"k":"d","vv":"FHA_FcgR2a","Visit":"vaccinated","x":0.429,"y":0.92},
            {"k":"d","vv":"FHA_FcgR2a","Visit":"vaccinated","x":0.466,"y":0.96},
            {"k":"d","vv":"FHA_FcgR2a","Visit":"vaccinated","x":0.506,"y":0.92},
            {"k":"d","vv":"FHA_FcgR2a","Visit":"vaccinated","x":0.583,"y":0.776},
            {"k":"d","vv":"FHA_FcgR2a","Visit":"vaccinated","x":0.66,"y":0.603},
            {"k":"d","vv":"FHA_FcgR2a","Visit":"vaccinated","x":0.738,"y":0.431},
            {"k":"d","vv":"FHA_FcgR2a","Visit":"vaccinated","x":0.815,"y":0.259},
            {"k":"d","vv":"FHA_FcgR2a","Visit":"vaccinated","x":0.877,"y":0.144},
            {"k":"d","vv":"FHA_FcgR2a","Visit":"vaccinated","x":0.938,"y":0.103},

            {"k":"d","vv":"FHA_FcgR3b","Visit":"vaccinated","x":0.052,"y":0.126},
            {"k":"d","vv":"FHA_FcgR3b","Visit":"vaccinated","x":0.114,"y":0.086},
            {"k":"d","vv":"FHA_FcgR3b","Visit":"vaccinated","x":0.16,"y":0.057},
            {"k":"d","vv":"FHA_FcgR3b","Visit":"vaccinated","x":0.207,"y":0.115},
            {"k":"d","vv":"FHA_FcgR3b","Visit":"vaccinated","x":0.253,"y":0.345},
            {"k":"d","vv":"FHA_FcgR3b","Visit":"vaccinated","x":0.299,"y":0.632},
            {"k":"d","vv":"FHA_FcgR3b","Visit":"vaccinated","x":0.346,"y":0.862},
            {"k":"d","vv":"FHA_FcgR3b","Visit":"vaccinated","x":0.392,"y":0.96},
            {"k":"d","vv":"FHA_FcgR3b","Visit":"vaccinated","x":0.438,"y":0.891},
            {"k":"d","vv":"FHA_FcgR3b","Visit":"vaccinated","x":0.485,"y":0.69},
            {"k":"d","vv":"FHA_FcgR3b","Visit":"vaccinated","x":0.531,"y":0.517},
            {"k":"d","vv":"FHA_FcgR3b","Visit":"vaccinated","x":0.577,"y":0.431},
            {"k":"d","vv":"FHA_FcgR3b","Visit":"vaccinated","x":0.623,"y":0.391},
            {"k":"d","vv":"FHA_FcgR3b","Visit":"vaccinated","x":0.67,"y":0.287},
            {"k":"d","vv":"FHA_FcgR3b","Visit":"vaccinated","x":0.716,"y":0.144},
            {"k":"d","vv":"FHA_FcgR3b","Visit":"vaccinated","x":0.762,"y":0.086},
            {"k":"d","vv":"FHA_FcgR3b","Visit":"vaccinated","x":0.824,"y":0.098},
            {"k":"d","vv":"FHA_FcgR3b","Visit":"vaccinated","x":0.886,"y":0.126},
            {"k":"d","vv":"FHA_FcgR3b","Visit":"vaccinated","x":0.932,"y":0.144},

            {"k":"d","vv":"DT_FcgR2a","Visit":"vaccinated","x":0.052,"y":0.431},
            {"k":"d","vv":"DT_FcgR2a","Visit":"vaccinated","x":0.114,"y":0.546},
            {"k":"d","vv":"DT_FcgR2a","Visit":"vaccinated","x":0.191,"y":0.661},
            {"k":"d","vv":"DT_FcgR2a","Visit":"vaccinated","x":0.253,"y":0.805},
            {"k":"d","vv":"DT_FcgR2a","Visit":"vaccinated","x":0.315,"y":0.908},
            {"k":"d","vv":"DT_FcgR2a","Visit":"vaccinated","x":0.377,"y":0.948},
            {"k":"d","vv":"DT_FcgR2a","Visit":"vaccinated","x":0.438,"y":0.833},
            {"k":"d","vv":"DT_FcgR2a","Visit":"vaccinated","x":0.5,"y":0.603},
            {"k":"d","vv":"DT_FcgR2a","Visit":"vaccinated","x":0.546,"y":0.489},
            {"k":"d","vv":"DT_FcgR2a","Visit":"vaccinated","x":0.608,"y":0.489},
            {"k":"d","vv":"DT_FcgR2a","Visit":"vaccinated","x":0.67,"y":0.46},
            {"k":"d","vv":"DT_FcgR2a","Visit":"vaccinated","x":0.731,"y":0.316},
            {"k":"d","vv":"DT_FcgR2a","Visit":"vaccinated","x":0.793,"y":0.172},
            {"k":"d","vv":"DT_FcgR2a","Visit":"vaccinated","x":0.84,"y":0.115},
            {"k":"d","vv":"DT_FcgR2a","Visit":"vaccinated","x":0.932,"y":0.126},

            {"k":"d","vv":"DT_FcgR3b","Visit":"vaccinated","x":0.052,"y":0.115},
            {"k":"d","vv":"DT_FcgR3b","Visit":"vaccinated","x":0.108,"y":0.069},
            {"k":"d","vv":"DT_FcgR3b","Visit":"vaccinated","x":0.17,"y":0.103},
            {"k":"d","vv":"DT_FcgR3b","Visit":"vaccinated","x":0.231,"y":0.086},
            {"k":"d","vv":"DT_FcgR3b","Visit":"vaccinated","x":0.293,"y":0.103},
            {"k":"d","vv":"DT_FcgR3b","Visit":"vaccinated","x":0.355,"y":0.126},
            {"k":"d","vv":"DT_FcgR3b","Visit":"vaccinated","x":0.401,"y":0.259},
            {"k":"d","vv":"DT_FcgR3b","Visit":"vaccinated","x":0.441,"y":0.517},
            {"k":"d","vv":"DT_FcgR3b","Visit":"vaccinated","x":0.478,"y":0.805},
            {"k":"d","vv":"DT_FcgR3b","Visit":"vaccinated","x":0.509,"y":0.948},
            {"k":"d","vv":"DT_FcgR3b","Visit":"vaccinated","x":0.534,"y":0.862},
            {"k":"d","vv":"DT_FcgR3b","Visit":"vaccinated","x":0.565,"y":0.517},
            {"k":"d","vv":"DT_FcgR3b","Visit":"vaccinated","x":0.596,"y":0.259},
            {"k":"d","vv":"DT_FcgR3b","Visit":"vaccinated","x":0.639,"y":0.218},
            {"k":"d","vv":"DT_FcgR3b","Visit":"vaccinated","x":0.688,"y":0.259},
            {"k":"d","vv":"DT_FcgR3b","Visit":"vaccinated","x":0.741,"y":0.201},
            {"k":"d","vv":"DT_FcgR3b","Visit":"vaccinated","x":0.802,"y":0.126},
            {"k":"d","vv":"DT_FcgR3b","Visit":"vaccinated","x":0.864,"y":0.103},
            {"k":"d","vv":"DT_FcgR3b","Visit":"vaccinated","x":0.91,"y":0.069},
            {"k":"d","vv":"DT_FcgR3b","Visit":"vaccinated","x":0.948,"y":0.126},

            {"k":"d","vv":"DT_IgG","Visit":"vaccinated","x":0.056,"y":0.144},
            {"k":"d","vv":"DT_IgG","Visit":"vaccinated","x":0.133,"y":0.201},
            {"k":"d","vv":"DT_IgG","Visit":"vaccinated","x":0.21,"y":0.345},
            {"k":"d","vv":"DT_IgG","Visit":"vaccinated","x":0.287,"y":0.546},
            {"k":"d","vv":"DT_IgG","Visit":"vaccinated","x":0.364,"y":0.776},
            {"k":"d","vv":"DT_IgG","Visit":"vaccinated","x":0.441,"y":0.948},
            {"k":"d","vv":"DT_IgG","Visit":"vaccinated","x":0.503,"y":0.948},
            {"k":"d","vv":"DT_IgG","Visit":"vaccinated","x":0.565,"y":0.862},
            {"k":"d","vv":"DT_IgG","Visit":"vaccinated","x":0.627,"y":0.718},
            {"k":"d","vv":"DT_IgG","Visit":"vaccinated","x":0.704,"y":0.701},
            {"k":"d","vv":"DT_IgG","Visit":"vaccinated","x":0.781,"y":0.632},
            {"k":"d","vv":"DT_IgG","Visit":"vaccinated","x":0.843,"y":0.489},
            {"k":"d","vv":"DT_IgG","Visit":"vaccinated","x":0.904,"y":0.316},
            {"k":"d","vv":"DT_IgG","Visit":"vaccinated","x":0.951,"y":0.218},

            {"k":"d","vv":"DT_IgG4","Visit":"vaccinated","x":0.052,"y":0.201},
            {"k":"d","vv":"DT_IgG4","Visit":"vaccinated","x":0.12,"y":0.345},
            {"k":"d","vv":"DT_IgG4","Visit":"vaccinated","x":0.182,"y":0.46},
            {"k":"d","vv":"DT_IgG4","Visit":"vaccinated","x":0.259,"y":0.586},
            {"k":"d","vv":"DT_IgG4","Visit":"vaccinated","x":0.336,"y":0.678},
            {"k":"d","vv":"DT_IgG4","Visit":"vaccinated","x":0.414,"y":0.793},
            {"k":"d","vv":"DT_IgG4","Visit":"vaccinated","x":0.491,"y":0.908},
            {"k":"d","vv":"DT_IgG4","Visit":"vaccinated","x":0.552,"y":0.96},
            {"k":"d","vv":"DT_IgG4","Visit":"vaccinated","x":0.614,"y":0.908},
            {"k":"d","vv":"DT_IgG4","Visit":"vaccinated","x":0.691,"y":0.776},
            {"k":"d","vv":"DT_IgG4","Visit":"vaccinated","x":0.769,"y":0.632},
            {"k":"d","vv":"DT_IgG4","Visit":"vaccinated","x":0.846,"y":0.46},
            {"k":"d","vv":"DT_IgG4","Visit":"vaccinated","x":0.938,"y":0.241},

            {"k":"d","vv":"DT_ADCP","Visit":"vaccinated","x":0.049,"y":0.144},
            {"k":"d","vv":"DT_ADCP","Visit":"vaccinated","x":0.111,"y":0.23},
            {"k":"d","vv":"DT_ADCP","Visit":"vaccinated","x":0.173,"y":0.431},
            {"k":"d","vv":"DT_ADCP","Visit":"vaccinated","x":0.235,"y":0.69},
            {"k":"d","vv":"DT_ADCP","Visit":"vaccinated","x":0.296,"y":0.862},
            {"k":"d","vv":"DT_ADCP","Visit":"vaccinated","x":0.373,"y":0.92},
            {"k":"d","vv":"DT_ADCP","Visit":"vaccinated","x":0.451,"y":0.937},
            {"k":"d","vv":"DT_ADCP","Visit":"vaccinated","x":0.512,"y":0.948},
            {"k":"d","vv":"DT_ADCP","Visit":"vaccinated","x":0.574,"y":0.908},
            {"k":"d","vv":"DT_ADCP","Visit":"vaccinated","x":0.636,"y":0.776},
            {"k":"d","vv":"DT_ADCP","Visit":"vaccinated","x":0.713,"y":0.546},
            {"k":"d","vv":"DT_ADCP","Visit":"vaccinated","x":0.79,"y":0.316},
            {"k":"d","vv":"DT_ADCP","Visit":"vaccinated","x":0.867,"y":0.172},
            {"k":"d","vv":"DT_ADCP","Visit":"vaccinated","x":0.944,"y":0.132},

            {"k":"d","vv":"DT_IgG2","Visit":"vaccinated","x":0.052,"y":0.218},
            {"k":"d","vv":"DT_IgG2","Visit":"vaccinated","x":0.136,"y":0.356},
            {"k":"d","vv":"DT_IgG2","Visit":"vaccinated","x":0.213,"y":0.489},
            {"k":"d","vv":"DT_IgG2","Visit":"vaccinated","x":0.29,"y":0.563},
            {"k":"d","vv":"DT_IgG2","Visit":"vaccinated","x":0.367,"y":0.632},
            {"k":"d","vv":"DT_IgG2","Visit":"vaccinated","x":0.444,"y":0.747},
            {"k":"d","vv":"DT_IgG2","Visit":"vaccinated","x":0.522,"y":0.862},
            {"k":"d","vv":"DT_IgG2","Visit":"vaccinated","x":0.583,"y":0.948},
            {"k":"d","vv":"DT_IgG2","Visit":"vaccinated","x":0.645,"y":0.977},
            {"k":"d","vv":"DT_IgG2","Visit":"vaccinated","x":0.707,"y":0.948},
            {"k":"d","vv":"DT_IgG2","Visit":"vaccinated","x":0.784,"y":0.833},
            {"k":"d","vv":"DT_IgG2","Visit":"vaccinated","x":0.846,"y":0.678},
            {"k":"d","vv":"DT_IgG2","Visit":"vaccinated","x":0.901,"y":0.489},
            {"k":"d","vv":"DT_IgG2","Visit":"vaccinated","x":0.954,"y":0.333}
          ]},
          "transform": [
            {"fold": ["DT_ADCD","FHA_ADCD","DT_ADNP","FHA_ADCP","FHA_ADNP","DT_IgG1","DT_IgG3","FHA_FcgR2a","FHA_FcgR3b","DT_FcgR2a","DT_FcgR3b","DT_IgG","DT_IgG4","DT_ADCP","DT_IgG2"], "as": ["c", "xv"]},
            {"fold": ["DT_ADCD","FHA_ADCD","DT_ADNP","FHA_ADCP","FHA_ADNP","DT_IgG1","DT_IgG3","FHA_FcgR2a","FHA_FcgR3b","DT_FcgR2a","DT_FcgR3b","DT_IgG","DT_IgG4","DT_ADCP","DT_IgG2"], "as": ["r", "yv"]},
            {"filter": "datum.k == 'o' ? indexof(['DT_ADCD','FHA_ADCD','DT_ADNP','FHA_ADCP','FHA_ADNP','DT_IgG1','DT_IgG3','FHA_FcgR2a','FHA_FcgR3b','DT_FcgR2a','DT_FcgR3b','DT_IgG','DT_IgG4','DT_ADCP','DT_IgG2'], datum.c) < indexof(['DT_ADCD','FHA_ADCD','DT_ADNP','FHA_ADCP','FHA_ADNP','DT_IgG1','DT_IgG3','FHA_FcgR2a','FHA_FcgR3b','DT_FcgR2a','DT_FcgR3b','DT_IgG','DT_IgG4','DT_ADCP','DT_IgG2'], datum.r) : datum.k == 'c' ? (datum.cc == datum.c && datum.rr == datum.r) : (datum.vv == datum.c && datum.vv == datum.r)"}
          ],
          "facet": {
            "row": {"field": "r", "sort": ["DT_ADCD","FHA_ADCD","DT_ADNP","FHA_ADCP","FHA_ADNP","DT_IgG1","DT_IgG3","FHA_FcgR2a","FHA_FcgR3b","DT_FcgR2a","DT_FcgR3b","DT_IgG","DT_IgG4","DT_ADCP","DT_IgG2"], "header": {"title": null, "labels": false}},
            "column": {"field": "c", "sort": ["DT_ADCD","FHA_ADCD","DT_ADNP","FHA_ADCP","FHA_ADNP","DT_IgG1","DT_IgG3","FHA_FcgR2a","FHA_FcgR3b","DT_FcgR2a","DT_FcgR3b","DT_IgG","DT_IgG4","DT_ADCP","DT_IgG2"], "header": {"title": null, "labels": false}}
          },
          "bounds": "flush",
          "spacing": {"row": 22, "column": 21.3},
          "spec": {
            "width": 108,
            "height": 58,
            "layer": [
              {
                "transform": [{"filter": "datum.k == 'o'"}],
                "mark": {"type": "square", "color": "#5AB4AC", "size": 21, "opacity": 1},
                "encoding": {
                  "x": {"field": "xv", "type": "quantitative", "scale": {"domain": [0, 1], "nice": false, "zero": false}, "axis": null},
                  "y": {"field": "yv", "type": "quantitative", "scale": {"domain": [0, 1], "nice": false, "zero": false},
                        "axis": {"values": [0.974, 0.891, 0.762, 0.664, 0.547, 0.46, 0.334, 0.247, 0.138, 0.034], "grid": true, "gridColor": "#EBEBEB", "gridWidth": 2.4, "gridDash": [8, 2, 8, 4], "gridDashOffset": 19, "labels": false, "ticks": false, "domain": false, "title": null, "minExtent": 0, "maxExtent": 0}}
                }
              },
              {
                "transform": [{"filter": "datum.k == 'd'"}],
                "mark": {"type": "line", "strokeWidth": 3.2, "strokeJoin": "round", "strokeCap": "round"},
                "encoding": {
                  "x": {"field": "x", "type": "quantitative", "scale": {"domain": [0, 1], "nice": false, "zero": false}, "axis": null},
                  "y": {"field": "y", "type": "quantitative", "scale": {"domain": [0, 1], "nice": false, "zero": false},
                        "axis": {"values": [0.974, 0.891, 0.762, 0.664, 0.547, 0.46, 0.334, 0.247, 0.138, 0.034], "grid": true, "gridColor": "#EBEBEB", "gridWidth": 2.4, "gridDash": [8, 2, 8, 4], "gridDashOffset": 19, "labels": false, "ticks": false, "domain": false, "title": null, "minExtent": 0, "maxExtent": 0}},
                  "stroke": {"field": "Visit", "type": "nominal", "scale": {"range": ["#5AB4AC"]},
                             "legend": {"title": "Visit", "orient": "none", "legendX": 780, "legendY": 1306, "direction": "horizontal", "titleOrient": "left", "titleFontSize": 44, "titleFont": "Liberation Sans", "titleFontWeight": "normal", "titleColor": "black", "titlePadding": 23, "titleBaseline": "middle", "labelFontSize": 34, "labelFont": "Liberation Sans", "labelColor": "black", "labelOffset": 24, "labelLimit": 0, "symbolType": "square", "symbolSize": 3969, "symbolStrokeWidth": 3, "symbolFillColor": "#F2F2F2", "padding": 0,
                                        "encode": {
                                          "symbols": {"update": {"fill": {"value": "#F2F2F2"}, "stroke": {"value": "#5AB4AC"}, "strokeWidth": {"value": 3}}},
                                          "title": {"update": {"dy": {"value": 4}}},
                                          "labels": {"update": {"dy": {"value": 3}}}
                                        }}}
                }
              },
              {
                "transform": [{"filter": "datum.k == 'c'"}],
                "mark": {"type": "rect"},
                "encoding": {
                  "color": {"field": "v", "type": "quantitative", "legend": null,
                            "scale": {"domain": [-1, -0.6667, -0.3333, 0, 0.3333, 0.6667, 1], "range": ["#4575b4", "#91bfdb", "#e0f3f8", "#ffffbf", "#fee090", "#fc8d59", "#d73027"], "interpolate": "rgb"}}
                }
              },
              {
                "transform": [{"filter": "datum.k == 'c'"}],
                "mark": {"type": "text", "fontSize": 24.5, "font": "Liberation Sans", "color": "black", "dy": 2.5},
                "encoding": {"text": {"field": "v", "type": "nominal"}}
              }
            ]
          }
        },
        {
          "data": {"values": [
            {"r": "DT_ADCD"}, {"r": "FHA_ADCD"}, {"r": "DT_ADNP"}, {"r": "FHA_ADCP"}, {"r": "FHA_ADNP"},
            {"r": "DT_IgG1"}, {"r": "DT_IgG3"}, {"r": "FHA_FcgR2a"}, {"r": "FHA_FcgR3b"}, {"r": "DT_FcgR2a"},
            {"r": "DT_FcgR3b"}, {"r": "DT_IgG"}, {"r": "DT_IgG4"}, {"r": "DT_ADCP"}, {"r": "DT_IgG2"}
          ]},
          "facet": {"row": {"field": "r", "sort": ["DT_ADCD","FHA_ADCD","DT_ADNP","FHA_ADCP","FHA_ADNP","DT_IgG1","DT_IgG3","FHA_FcgR2a","FHA_FcgR3b","DT_FcgR2a","DT_FcgR3b","DT_IgG","DT_IgG4","DT_ADCP","DT_IgG2"], "header": {"title": null, "labels": false}}},
          "spacing": 22,
          "spec": {
            "width": 44,
            "height": 58,
            "layer": [
              {"mark": {"type": "rect", "color": "#D9D9D9"}, "encoding": {}},
              {"mark": {"type": "text", "fontSize": 8, "font": "Liberation Sans", "color": "#1A1A1A", "angle": 90}, "encoding": {"text": {"field": "r"}}}
            ]
          }
        }
      ]
    }
  ]
}
